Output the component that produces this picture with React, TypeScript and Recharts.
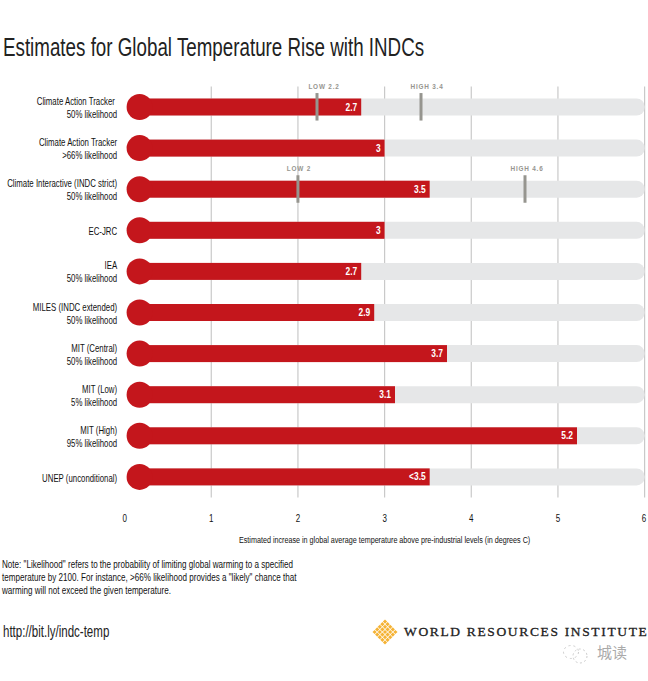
import { BarChart, Bar, XAxis, YAxis, CartesianGrid, LabelList, ReferenceDot, Rectangle } from 'recharts'

const sources = [
  'Climate Action Tracker\u00a0', 'Climate Action Tracker', 'Climate Interactive (INDC strict)', 'EC-JRC', 'IEA',
  'MILES (INDC extended)', 'MIT (Central)', 'MIT (Low)', 'MIT (High)', 'UNEP (unconditional)',
]
const likelihoods = [
  '50% likelihood', '>66% likelihood', '50% likelihood', '', '50% likelihood',
  '50% likelihood', '50% likelihood', '5% likelihood', '95% likelihood', '',
]
const estimates = [2.73, 3, 3.52, 3, 2.73, 2.88, 3.72, 3.12, 5.22, 3.52]
const estimateLabels = ['2.7', '3', '3.5', '3', '2.7', '2.9', '3.7', '3.1', '5.2', '<3.5']
const xTicks = [0, 1, 2, 3, 4, 5, 6]
const gridValues = [1, 2, 3, 4, 5, 6]

// low / high range markers, only two of the studies have them
const rangeRows = [0, 0, 2, 2]
const rangeValues = [2.22, 3.42, 2, 4.62]
const rangeLabels = ['LOW 2.2', 'HIGH 3.4', 'LOW 2', 'HIGH 4.6']

const noteLines = [
  'Note: "Likelihood" refers to the probability of limiting global warming to a specified',
  'temperature by 2100. For instance, >66% likelihood provides a "likely" chance that',
  'warming will not exceed the given temperature.',
]

// no narrow face is installed, so Liberation Sans gets squeezed sideways
const SANS = '"Liberation Sans", sans-serif'
const RED = '#c4161c'
const AXIS_TITLE = 'Estimated increase in global average temperature above pre-industrial levels (in degrees C)'
const RANGE_LABEL_NUDGE: Record<string, number> = { 'LOW 2.2': 7, 'HIGH 3.4': 6, 'LOW 2': 1, 'HIGH 4.6': 2 }

const data = sources.map((s, i) => ({ key: String(i), estimate: estimates[i], label: estimateLabels[i] }))

function SourceTick({ x, y, payload }: any) {
  const i = Number(payload.value)
  const two = likelihoods[i] !== ''
  return (
    <g transform={`translate(${x + 6.5} ${y}) scale(0.745 1)`}>
      <text textAnchor="end" fontFamily={SANS} fontSize={10.5} fill="#111" style={{ whiteSpace: 'pre' }}>
        <tspan x={0} dy={two ? -2 : 5}>{sources[i]}</tspan>
        {two && <tspan x={0} dy={13}>{likelihoods[i]}</tspan>}
      </text>
    </g>
  )
}

function ValueTick({ x, y, payload }: any) {
  return (
    <g transform={`translate(${x} ${y}) scale(0.8 1)`}>
      <text textAnchor="middle" y={9} fontFamily={SANS} fontSize={10} fill="#111">{payload.value}</text>
    </g>
  )
}

function AxisTitle({ viewBox }: any) {
  const cx = viewBox.x + viewBox.width / 2
  return (
    <g transform={`translate(${cx} ${viewBox.y + 45}) scale(0.8 1)`}>
      <text textAnchor="middle" fontFamily={SANS} fontSize={9} fill="#111">{AXIS_TITLE}</text>
    </g>
  )
}

function Track({ x, y, width, height }: any) {
  return <Rectangle x={x + 15} y={y} width={width - 15} height={height} fill="#e6e7e8" radius={[0, 8, 8, 0]} />
}

function EstimateBar({ x, y, width, height }: any) {
  return (
    <g>
      <rect x={x + 15} y={y} width={width - 15} height={height} fill={RED} />
      <circle cx={x + 15} cy={y + height / 2} r={13} fill={RED} />
    </g>
  )
}

function EstimateLabel({ x, y, width, height, value }: any) {
  return (
    <g transform={`translate(${x + width - 4} ${y + height / 2 + 3.5}) scale(0.8 1)`}>
      <text textAnchor="end" fontFamily={SANS} fontSize={10.5} fontWeight={700} fill="#fff">{value}</text>
    </g>
  )
}

function RangeMark({ cx, cy, text }: any) {
  return (
    <g>
      <rect x={cx - 1.5} y={cy - 14} width={3} height={27.5} fill="#96958f" />
      <g transform={`translate(${cx + RANGE_LABEL_NUDGE[text]} ${cy - 18}) scale(0.8 1)`}>
        <text textAnchor="middle" fontFamily={SANS} fontSize={8} fontWeight={700} letterSpacing={1} fill="#96958f">{text}</text>
      </g>
    </g>
  )
}

function Logo() {
  const cells = []
  for (let r = -2; r <= 2; r++) {
    for (let c = -2; c <= 2; c++) {
      const cx = 13 + (c - r) * 2.6
      const cy = 13 + (c + r) * 2.6
      cells.push(<rect key={r + '_' + c} x={cx - 1.5} y={cy - 1.5} width={3} height={3} fill="#f5b335"
        transform={`rotate(45 ${cx} ${cy})`} />)
    }
  }
  return <svg width={26} height={26} style={{ position: 'absolute', left: 372, top: 619 }}>{cells}</svg>
}

function WatermarkIcon() {
  return (
    <svg width={32} height={22} style={{ position: 'absolute', left: 561, top: 643 }}>
      <ellipse cx={10} cy={9} rx={7.5} ry={6.5} fill="none" stroke="#ccc" strokeDasharray="2 3" />
      <circle cx={19} cy={13} r={7} fill="none" stroke="#ccc" strokeDasharray="2 2.5" />
    </svg>
  )
}

const squeezed = (scale: number) => ({ transform: `scaleX(${scale})`, transformOrigin: 'left top', whiteSpace: 'nowrap' as const })

export default function App() {
  return (
    <div style={{ position: 'absolute', left: 0, top: 0, width: 648, height: 681, background: '#fff', overflow: 'hidden' }}>
      <div style={{ position: 'absolute', left: 3, top: 31, fontFamily: SANS, fontSize: 26, lineHeight: '32px', color: '#222', ...squeezed(0.722) }}>
        Estimates for Global Temperature Rise with INDCs
      </div>
      <BarChart width={648} height={681} data={data} layout="vertical" barSize={17}
        margin={{ top: 86.5, right: 3.4, bottom: 133.5, left: 0 }}>
        <CartesianGrid horizontal={false} verticalValues={gridValues} stroke="#c9c9c9" strokeWidth={1.2} />
        <XAxis type="number" domain={[0, 6]} ticks={xTicks} height={50} axisLine={false} tickLine={false}
          tickMargin={10} tick={<ValueTick />} label={{ content: <AxisTitle /> } as any} />
        <YAxis type="category" dataKey="key" width={124.6} axisLine={false} tickLine={false} interval={0}
          tick={<SourceTick />} tickMargin={8} />
        <Bar dataKey="estimate" isAnimationActive={false} shape={<EstimateBar />} background={<Track />}>
          <LabelList dataKey="label" content={<EstimateLabel />} />
        </Bar>
        {rangeValues.map((v, i) => (
          <ReferenceDot key={i} x={v} y={String(rangeRows[i])} shape={<RangeMark text={rangeLabels[i]} />} />
        ))}
      </BarChart>
      <div style={{ position: 'absolute', left: 2, top: 558, fontFamily: SANS, fontSize: 10.5, lineHeight: '13px', color: '#111', ...squeezed(0.77) }}>
        {noteLines.map((l, i) => <div key={i}>{l}</div>)}
      </div>
      <div style={{ position: 'absolute', left: 3, top: 622, fontFamily: SANS, fontSize: 16, lineHeight: '20px', color: '#222', ...squeezed(0.72) }}>
        http://bit.ly/indc-temp
      </div>
      <Logo />
      <div style={{ position: 'absolute', left: 404, top: 623, fontFamily: '"Liberation Serif", serif', fontSize: 13.5, lineHeight: '17px', letterSpacing: 1.65, color: '#222', whiteSpace: 'nowrap', WebkitTextStroke: '0.3px #222' }}>
        WORLD RESOURCES INSTITUTE
      </div>
      <WatermarkIcon />
      <div style={{ position: 'absolute', left: 597, top: 643, fontFamily: '"Noto Sans CJK SC"', fontSize: 15, lineHeight: '18px', color: '#aaa', whiteSpace: 'nowrap' }}>
        城读
      </div>
    </div>
  )
}
